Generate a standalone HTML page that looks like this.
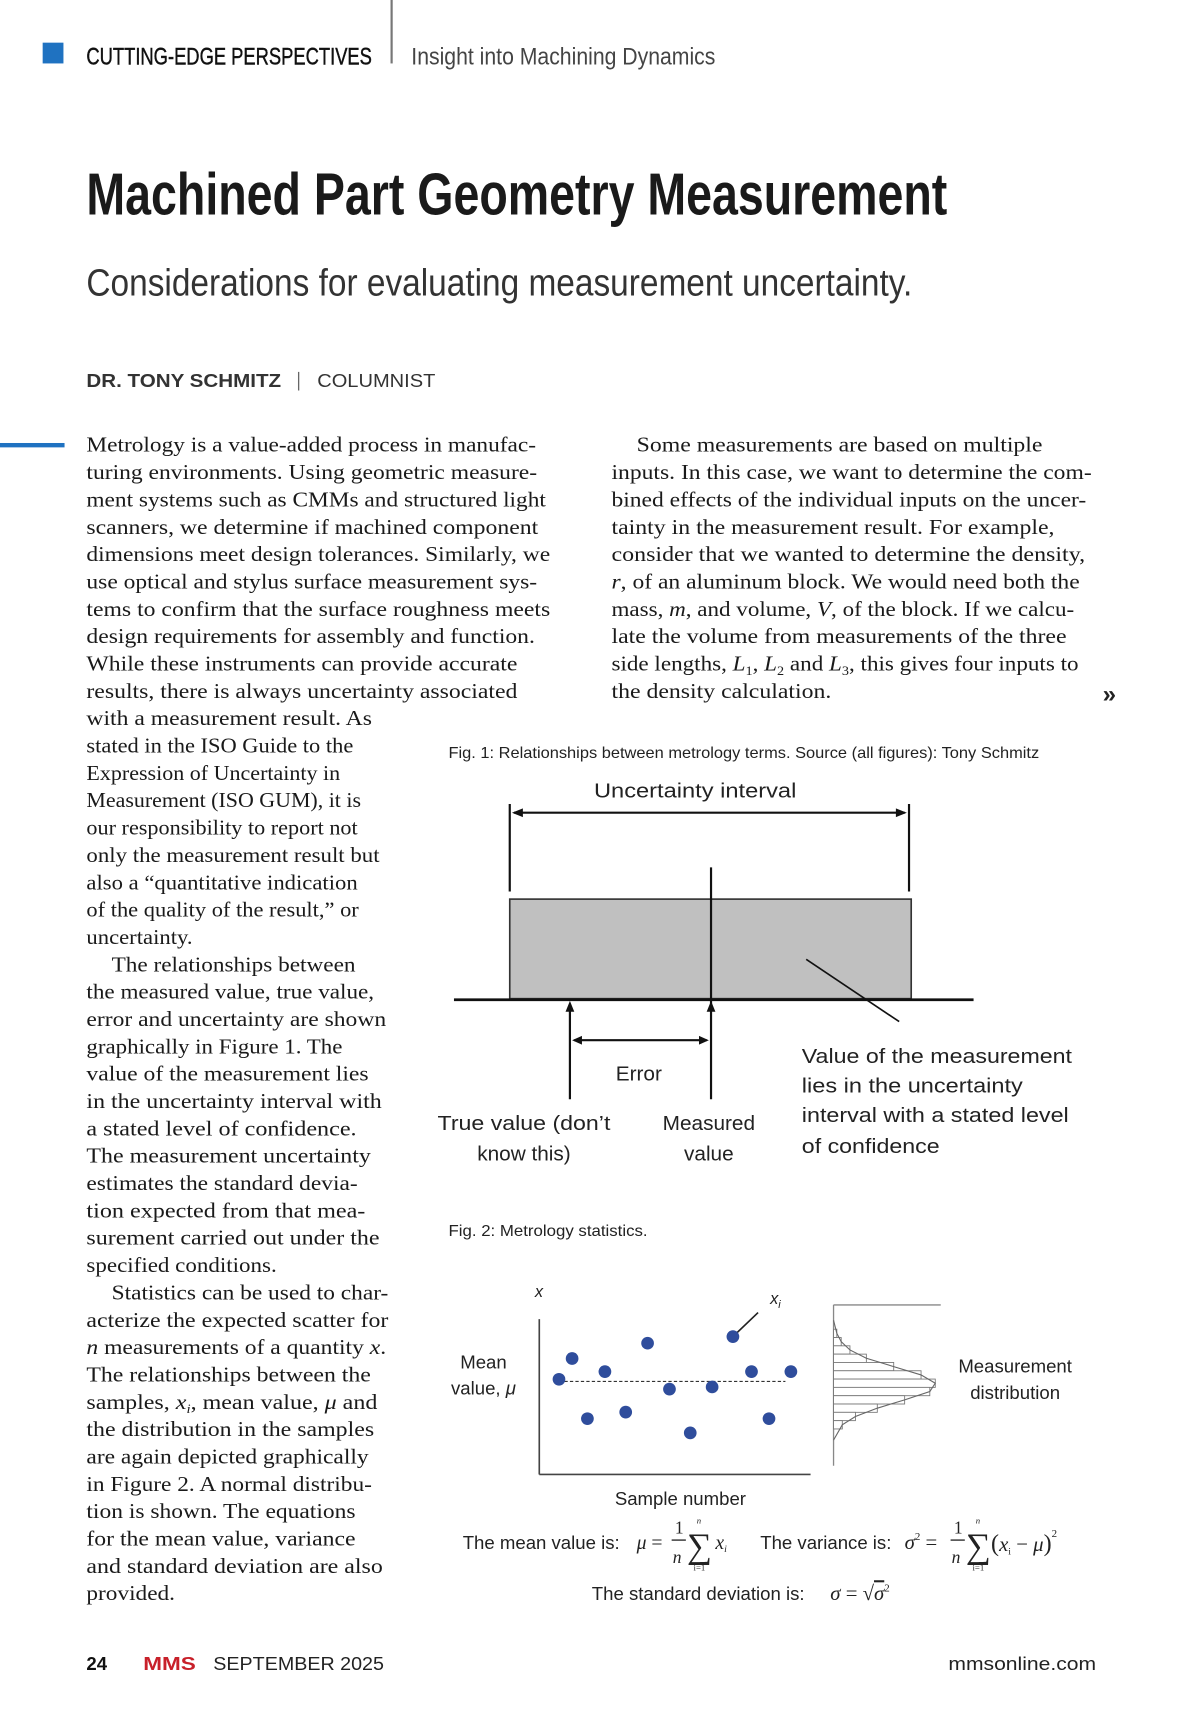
<!DOCTYPE html>
<html><head><meta charset="utf-8"><style>
html,body{margin:0;padding:0;background:#fff;}
svg{display:block;}
.b{font-family:"Liberation Serif",serif;font-size:19.5px;fill:#1a1a1a;}
.s{font-family:"Liberation Sans",sans-serif;}
.f{font-family:"Liberation Sans",sans-serif;font-size:19px;fill:#222;}
</style></head><body>
<svg width="1200" height="1714" viewBox="0 0 1097 1567" preserveAspectRatio="none" xmlns="http://www.w3.org/2000/svg">
<rect x="39" y="39" width="19" height="19" fill="#1f72c1"/>
<text class="s" x="79" y="59" font-size="22" textLength="261" lengthAdjust="spacingAndGlyphs" fill="#111" stroke="#111" stroke-width="0.4">CUTTING-EDGE PERSPECTIVES</text>
<line x1="358" y1="0" x2="358" y2="58" stroke="#777" stroke-width="2"/>
<text class="s" x="376" y="59" font-size="22" textLength="278" lengthAdjust="spacingAndGlyphs" fill="#444">Insight into Machining Dynamics</text>
<text class="s" x="79" y="196" font-size="54" font-weight="bold" textLength="787" lengthAdjust="spacingAndGlyphs" fill="#1a1a1a">Machined Part Geometry Measurement</text>
<text class="s" x="79" y="270" font-size="35" textLength="755" lengthAdjust="spacingAndGlyphs" fill="#333">Considerations for evaluating measurement uncertainty.</text>
<text class="s" x="79" y="354" font-size="17" font-weight="bold" fill="#333" textLength="178" lengthAdjust="spacingAndGlyphs">DR. TONY SCHMITZ</text>
<line x1="273" y1="340" x2="273" y2="357" stroke="#666" stroke-width="1.2"/>
<text class="s" x="290" y="354" font-size="17" fill="#333" textLength="108" lengthAdjust="spacingAndGlyphs">COLUMNIST</text>
<rect x="0" y="405" width="59" height="4" fill="#1f72c1"/>

<g id="leftcol"></g>
<g id="rightcol"></g>
<text class="s" x="1008" y="642" font-size="22" font-weight="bold" fill="#222">»</text>

<text class="s" x="410" y="693" font-size="14.5" textLength="540" lengthAdjust="spacingAndGlyphs" fill="#222">Fig. 1: Relationships between metrology terms. Source (all figures): Tony Schmitz</text>

<g stroke="#111" stroke-width="2" fill="none">
<text class="f" x="543" y="729" textLength="185" lengthAdjust="spacingAndGlyphs" stroke="none">Uncertainty interval</text>
<line x1="466" y1="735" x2="466" y2="815"/>
<line x1="831" y1="735" x2="831" y2="815"/>
<line x1="470" y1="743" x2="827" y2="743"/>
<path d="M468 743 l10 -4 v8z M829 743 l-10 -4 v8z" fill="#111" stroke="none"/>
<rect x="466" y="822" width="367" height="91" fill="#c0c0c0" stroke="#333" stroke-width="1.5"/>
<line x1="650" y1="793" x2="650" y2="1005"/>
<line x1="415" y1="914" x2="890" y2="914" stroke-width="2.5"/>
<line x1="521" y1="920" x2="521" y2="1005"/>
<path d="M521 915 l-4 10 h8z M650 915 l-4 10 h8z" fill="#111" stroke="none"/>
<line x1="525" y1="951" x2="646" y2="951"/>
<path d="M523 951 l9 -4 v8z M648 951 l-9 -4 v8z" fill="#111" stroke="none"/>
<line x1="737" y1="877" x2="822" y2="934" stroke-width="1.5"/>
<g stroke="none">
<text class="f" x="584" y="988" text-anchor="middle">Error</text>
<text class="f" x="400" y="1033" textLength="158" lengthAdjust="spacingAndGlyphs">True value (don’t</text>
<text class="f" x="479" y="1061" text-anchor="middle">know this)</text>
<text class="f" x="648" y="1033" text-anchor="middle">Measured</text>
<text class="f" x="648" y="1061" text-anchor="middle">value</text>
<text class="f" x="733" y="972" textLength="247" lengthAdjust="spacingAndGlyphs">Value of the measurement</text>
<text class="f" x="733" y="999" textLength="202" lengthAdjust="spacingAndGlyphs">lies in the uncertainty</text>
<text class="f" x="733" y="1026" textLength="244" lengthAdjust="spacingAndGlyphs">interval with a stated level</text>
<text class="f" x="733" y="1054" textLength="126" lengthAdjust="spacingAndGlyphs">of confidence</text>
</g></g>

<text class="s" x="410" y="1130" font-size="14.5" textLength="182" lengthAdjust="spacingAndGlyphs" fill="#222">Fig. 2: Metrology statistics.</text>

<g id="fig2">
<text class="s" x="489" y="1186" font-size="15" font-style="italic" fill="#222">x</text>
<text class="s" x="704" y="1192" font-size="15" font-style="italic" fill="#222">x<tspan font-size="10" dy="4">i</tspan></text>
<line x1="493" y1="1206" x2="493" y2="1348" stroke="#444" stroke-width="1.5"/>
<line x1="493" y1="1348" x2="741" y2="1348" stroke="#444" stroke-width="1.5"/>
<text class="s" x="442" y="1251" font-size="17" text-anchor="middle" fill="#222">Mean</text>
<text class="s" x="442" y="1275" font-size="17" text-anchor="middle" fill="#222">value, <tspan font-style="italic">μ</tspan></text>
<text class="s" x="622" y="1376" font-size="17" text-anchor="middle" fill="#222">Sample number</text>
<line x1="762" y1="1193" x2="762" y2="1340" stroke="#888" stroke-width="1.2"/>
<line x1="762" y1="1193" x2="860" y2="1193" stroke="#888" stroke-width="1.2"/>
<text class="s" x="928" y="1255" font-size="17" text-anchor="middle" fill="#222">Measurement</text>
<text class="s" x="928" y="1279" font-size="17" text-anchor="middle" fill="#222">distribution</text>
<g id="hist"></g>
<g id="pts"></g>
</g>

<g fill="#222">
<text class="s" x="423" y="1416" font-size="17">The mean value is:</text>
<text x="582" y="1416" font-family="Liberation Serif,serif" font-size="18"><tspan font-style="italic">μ</tspan> =</text>
<text x="617" y="1402" font-family="Liberation Serif,serif" font-size="16">1</text>
<line x1="614" y1="1408" x2="627" y2="1408" stroke="#222" stroke-width="1.2"/>
<text x="615" y="1429" font-family="Liberation Serif,serif" font-size="16" font-style="italic">n</text>
<text x="628" y="1424" font-family="Liberation Serif,serif" font-size="32">∑</text>
<text x="637" y="1393" font-family="Liberation Serif,serif" font-size="8" font-style="italic">n</text>
<text x="634" y="1436" font-family="Liberation Serif,serif" font-size="8">i=1</text>
<text x="654" y="1416" font-family="Liberation Serif,serif" font-size="18" font-style="italic">x<tspan font-size="9" dy="3">i</tspan></text>
<text class="s" x="695" y="1416" font-size="17">The variance is:</text>
<text x="827" y="1416" font-family="Liberation Serif,serif" font-size="19"><tspan font-style="italic">σ</tspan><tspan font-size="10" dy="-8">2</tspan><tspan dy="8"> =</tspan></text>
<text x="872" y="1402" font-family="Liberation Serif,serif" font-size="16">1</text>
<line x1="869" y1="1408" x2="882" y2="1408" stroke="#222" stroke-width="1.2"/>
<text x="870" y="1429" font-family="Liberation Serif,serif" font-size="16" font-style="italic">n</text>
<text x="883" y="1424" font-family="Liberation Serif,serif" font-size="32">∑</text>
<text x="892" y="1393" font-family="Liberation Serif,serif" font-size="8" font-style="italic">n</text>
<text x="889" y="1436" font-family="Liberation Serif,serif" font-size="8">i=1</text>
<text x="906" y="1418" font-family="Liberation Serif,serif" font-size="22">(<tspan font-style="italic" font-size="19">x</tspan><tspan font-size="9" dy="3">i</tspan><tspan dy="-3" font-size="19"> − </tspan><tspan font-style="italic" font-size="19">μ</tspan>)<tspan font-size="10" dy="-13">2</tspan></text>
<text class="s" x="541" y="1463" font-size="17">The standard deviation is:</text>
<text x="759" y="1463" font-family="Liberation Serif,serif" font-size="19"><tspan font-style="italic">σ</tspan> = √<tspan font-style="italic" text-decoration="overline">σ</tspan><tspan font-size="10" dy="-8">2</tspan></text>
</g>

<g>
<text class="s" x="79" y="1527" font-size="17" font-weight="bold" fill="#111">24</text>
<text class="s" x="131" y="1527" font-size="17" font-weight="bold" fill="#c8202a" textLength="48" lengthAdjust="spacingAndGlyphs">MMS</text>
<text class="s" x="195" y="1527" font-size="17" fill="#222" textLength="156" lengthAdjust="spacingAndGlyphs">SEPTEMBER 2025</text>
<text class="s" x="1002" y="1527" font-size="17" fill="#222" text-anchor="end" textLength="135" lengthAdjust="spacingAndGlyphs">mmsonline.com</text>
</g>
</svg>
<script>
const NS='http://www.w3.org/2000/svg';
// Chart data (figure 2)
const sampleNumber=[0,12,26,42,61,81,101,120,140,159,176,192,212];
const sampleValues=[2,21,-34,9,-28,35,-7,-47,-5,41,9,-34,9];
const meanValue=0;
const histBins=[-5,-4,-3,-2,-1,0,1,2,3,4,5,6];
const histCounts=[3,7,15,30,55,80,93,88,65,40,20,8];
// axis functions
function sx(i){return 511+i;}
function sy(v){return 1263-v;}
function hy(b){return 1257+b*7.6;}
function hx(c){return 762+c;}
const pts=document.getElementById('pts');
const ml=document.createElementNS(NS,'line');


ml.setAttribute('x1',sx(sampleNumber[0])-5);ml.setAttribute('x2',sx(sampleNumber[sampleNumber.length-1])-5);
ml.setAttribute('y1',sy(meanValue));ml.setAttribute('y2',sy(meanValue));
ml.setAttribute('stroke','#333');ml.setAttribute('stroke-dasharray','3,2');ml.setAttribute('stroke-width','1');
pts.appendChild(ml);
let maxI=0;sampleValues.forEach((v,k)=>{if(v>sampleValues[maxI])maxI=k;});
const pl=document.createElementNS(NS,'line');


pl.setAttribute('x1',sx(sampleNumber[maxI]));pl.setAttribute('y1',sy(sampleValues[maxI]));
pl.setAttribute('x2',sx(sampleNumber[maxI])+23);pl.setAttribute('y2',sy(sampleValues[maxI])-22);
pl.setAttribute('stroke','#222');pl.setAttribute('stroke-width','1.5');
pts.appendChild(pl);
sampleNumber.forEach((i,k)=>{
 const c=document.createElementNS(NS,'circle');
 
 
 c.setAttribute('cx',sx(i));c.setAttribute('cy',sy(sampleValues[k]));c.setAttribute('r','5.8');
 c.setAttribute('fill','#2f4d9c');
 pts.appendChild(c);
});
const hist=document.getElementById('hist');
let d='M'+hx(0)+' '+(hy(histBins[0])-12);
histBins.forEach((b,k)=>{
 const r=document.createElementNS(NS,'rect');
 
 
 r.setAttribute('x',hx(0));r.setAttribute('y',hy(b)-3.8);
 r.setAttribute('width',histCounts[k]);r.setAttribute('height','7.6');
 r.setAttribute('fill','#fff');r.setAttribute('stroke','#777');r.setAttribute('stroke-width','0.8');
 hist.appendChild(r);
 d+=' L'+hx(histCounts[k])+' '+hy(b);
});
d+=' L'+hx(0)+' '+(hy(histBins[histBins.length-1])+14);
const cur=document.createElementNS(NS,'path');


cur.setAttribute('d',d);cur.setAttribute('fill','none');cur.setAttribute('stroke','#666');cur.setAttribute('stroke-width','1');
hist.appendChild(cur);

// body text
const L=[
[79,490,'Metrology is a value-added process in manufac-'],
[79,491,'turing environments. Using geometric measure-'],
[79,499,'ment systems such as CMMs and structured light'],
[79,492,'scanners, we determine if machined component'],
[79,503,'dimensions meet design tolerances. Similarly, we'],
[79,491,'use optical and stylus surface measurement sys-'],
[79,503,'tems to confirm that the surface roughness meets'],
[79,489,'design requirements for assembly and function.'],
[79,473,'While these instruments can provide accurate'],
[79,473,'results, there is always uncertainty associated'],
[79,340,'with a measurement result. As'],
[79,323,'stated in the ISO Guide to the'],
[79,311,'Expression of Uncertainty in'],
[79,330,'Measurement (ISO GUM), it is'],
[79,327,'our responsibility to report not'],
[79,347,'only the measurement result but'],
[79,327,'also a “quantitative indication'],
[79,328,'of the quality of the result,” or'],
[79,176,'uncertainty.'],
[102,325,'The relationships between'],
[79,342,'the measured value, true value,'],
[79,353,'error and uncertainty are shown'],
[79,313,'graphically in Figure 1. The'],
[79,337,'value of the measurement lies'],
[79,349,'in the uncertainty interval with'],
[79,326,'a stated level of confidence.'],
[79,339,'The measurement uncertainty'],
[79,327,'estimates the standard devia-'],
[79,334,'tion expected from that mea-'],
[79,347,'surement carried out under the'],
[79,253,'specified conditions.'],
[102,355,'Statistics can be used to char-'],
[79,355,'acterize the expected scatter for'],
[79,353,'<tspan font-style="italic">n</tspan> measurements of a quantity <tspan font-style="italic">x</tspan>.'],
[79,339,'The relationships between the'],
[79,345,'samples, <tspan font-style="italic">x<tspan font-size="12" dy="4">i</tspan></tspan><tspan dy="-4">, mean value, </tspan><tspan font-style="italic">μ</tspan> and'],
[79,342,'the distribution in the samples'],
[79,337,'are again depicted graphically'],
[79,340,'in Figure 2. A normal distribu-'],
[79,325,'tion is shown. The equations'],
[79,325,'for the mean value, variance'],
[79,350,'and standard deviation are also'],
[79,160,'provided.']];
const R=[
[582,953,'Some measurements are based on multiple'],
[559,998,'inputs. In this case, we want to determine the com-'],
[559,993,'bined effects of the individual inputs on the uncer-'],
[559,964,'tainty in the measurement result. For example,'],
[559,992,'consider that we wanted to determine the density,'],
[559,987,'<tspan font-style="italic">r</tspan>, of an aluminum block. We would need both the'],
[559,982,'mass, <tspan font-style="italic">m</tspan>, and volume, <tspan font-style="italic">V</tspan>, of the block. If we calcu-'],
[559,975,'late the volume from measurements of the three'],
[559,986,'side lengths, <tspan font-style="italic">L</tspan><tspan font-size="12" dy="4">1</tspan><tspan dy="-4">, </tspan><tspan font-style="italic">L</tspan><tspan font-size="12" dy="4">2</tspan><tspan dy="-4"> and </tspan><tspan font-style="italic">L</tspan><tspan font-size="12" dy="4">3</tspan><tspan dy="-4">, this gives four inputs to</tspan>'],
[559,760,'the density calculation.']];
function put(id,arr){
 const g=document.getElementById(id);
 arr.forEach((a,k)=>{
  const t=document.createElementNS(NS,'text');
  
  
  t.setAttribute('class','b');t.setAttribute('x',a[0]);t.setAttribute('y',413+k*25);
  t.setAttribute('textLength',a[1]-a[0]);t.setAttribute('lengthAdjust','spacingAndGlyphs');
  t.innerHTML=a[2];g.appendChild(t);
 });
}
put('leftcol',L);put('rightcol',R);
</script>
</body></html>
